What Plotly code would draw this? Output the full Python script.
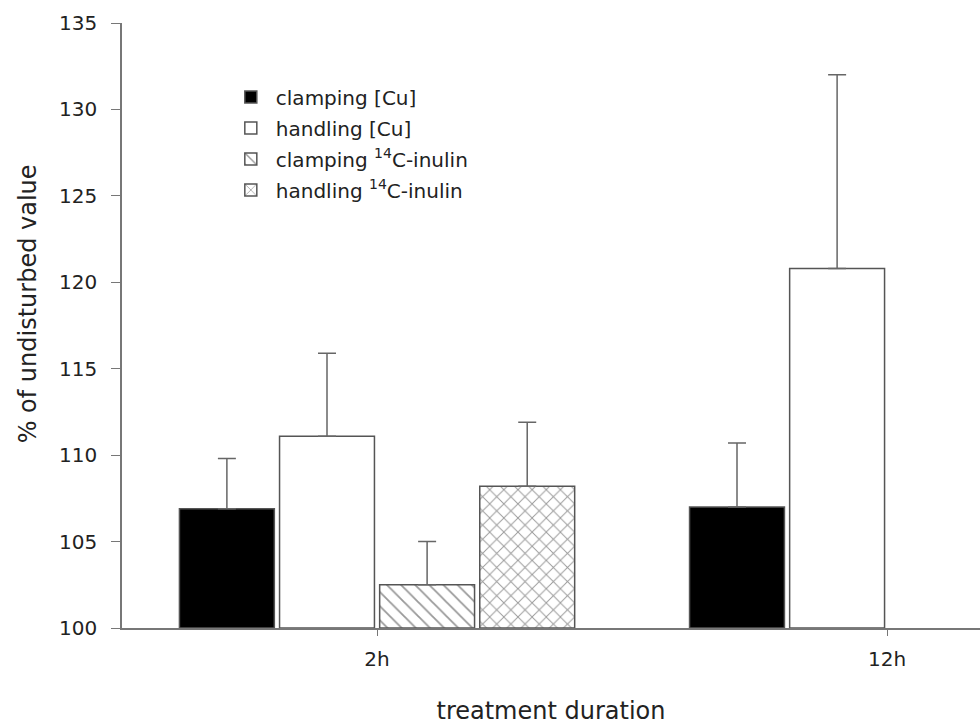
import plotly.graph_objects as go

categories = ["2h", "12h"]
series_names = ["clamping [Cu]", "handling [Cu]",
                "clamping <sup>14</sup>C-inulin", "handling <sup>14</sup>C-inulin"]
clamping_cu = [106.9, 107.0]
handling_cu = [111.1, 120.8]
clamping_inulin = [102.5, None]
handling_inulin = [108.2, None]
err_clamping_cu = [2.9, 3.7]
err_handling_cu = [4.8, 11.2]
err_clamping_inulin = [2.5, None]
err_handling_inulin = [3.7, None]
y_ticks = [100, 105, 110, 115, 120, 125, 130, 135]

FONT = "DejaVu Sans"
LINE = "#555555"

values = [clamping_cu, handling_cu, clamping_inulin, handling_inulin]
errors = [err_clamping_cu, err_handling_cu, err_clamping_inulin, err_handling_inulin]
fills = ["black", "white", "white", "white"]
patterns = ["", "", "\\", "x"]

fig = go.Figure()
for i, (name, vals, errs) in enumerate(zip(series_names, values, errors)):
    marker = dict(color=fills[i], line=dict(color=LINE, width=1.5))
    if patterns[i]:
        marker["pattern"] = dict(shape=patterns[i], fgcolor="#333333", bgcolor="white",
                                 size=10, solidity=0.18, fillmode="overlay")
    fig.add_trace(go.Bar(
        x=categories, y=[None if v is None else v - 100 for v in vals], base=100,
        name=name, legendgroup=str(i), marker=marker,
        error_y=dict(type="data", symmetric=False,
                     array=[0 if e is None else e for e in errs],
                     arrayminus=[0 for _ in errs],
                     color="#666666", thickness=1.5, width=9),
    ))

fig.update_layout(
    width=980, height=725,
    margin=dict(l=122, r=0, t=23, b=97),
    paper_bgcolor="white", plot_bgcolor="white",
    font=dict(family=FONT, size=20, color="#222222"),
    barmode="group", bargap=0.215, bargroupgap=0.052,
    showlegend=True,
    legend=dict(x=0.121, y=0.91, xanchor="left", yanchor="top",
                bgcolor="rgba(0,0,0,0)", font=dict(family=FONT, size=20),
                tracegroupgap=2, itemwidth=40),
    xaxis=dict(range=[-0.5, 1.182], showline=True, linecolor="#777777", linewidth=1.5,
               ticks="outside", ticklen=6, tickcolor="#777777", showgrid=False,
               zeroline=False, ticklabelstandoff=6,
               title=dict(text="treatment duration", font=dict(size=24), standoff=32)),
    yaxis=dict(range=[100, 135], tickvals=y_ticks, showline=True, linecolor="#777777",
               linewidth=1.5, ticks="outside", ticklen=9, tickcolor="#777777",
               showgrid=False, zeroline=False, ticklabelstandoff=10),
    annotations=[dict(text="% of undisturbed value", textangle=-90, xref="paper", yref="paper",
                      x=-0.11, y=0.536, xanchor="center", yanchor="middle",
                      showarrow=False, font=dict(size=24, family=FONT))],
)

fig.write_html("out.html")
